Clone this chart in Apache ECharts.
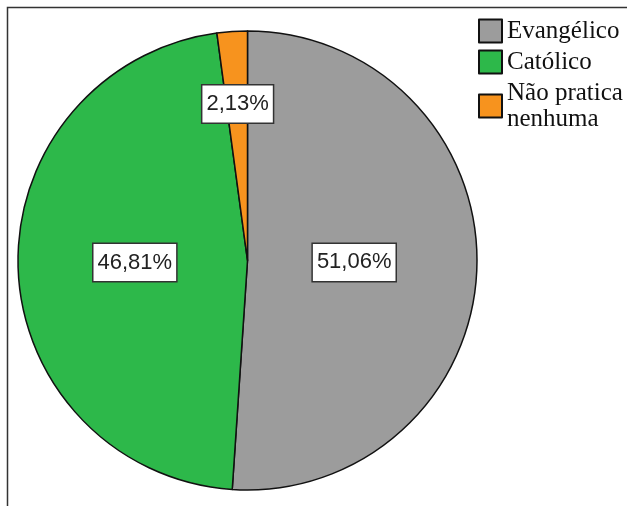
<!DOCTYPE html>
<html>
<head>
<meta charset="utf-8">
<style>
  html, body { margin: 0; padding: 0; background: #ffffff; }
  #chart { width: 627px; height: 506px; }
</style>
<script src="https://cdn.jsdelivr.net/npm/echarts@6/dist/echarts.min.js"></script>
</head>
<body>
<div id="chart"></div>
<script>
// Religião praticada (percentual)
const categories = ['Evangélico', 'Católico', 'Não pratica\nnenhuma'];
const percentages = [51.06, 46.81, 2.13];
const sliceColors = ['#9c9c9c', '#2db84a', '#f7931e'];

// small nudges applied to each inside label
const labelShift = [[-11, -2], [5, -2], [-2, -39]];

const chart = echarts.init(document.getElementById('chart'), null, { renderer: 'canvas' });

chart.setOption({
  animation: false,
  backgroundColor: '#ffffff',
  graphic: [
    {
      type: 'polyline',
      silent: true,
      shape: { points: [[7.5, 506], [7.5, 7.5], [627, 7.5]] },
      style: { stroke: '#333333', lineWidth: 1.5, fill: null }
    }
  ],
  legend: {
    orient: 'vertical',
    left: 478,
    top: 18,
    padding: 0,
    itemWidth: 23,
    itemHeight: 23,
    itemGap: 5,
    icon: 'rect',
    selectedMode: false,
    textStyle: {
      fontFamily: 'Liberation Serif',
      fontSize: 25,
      lineHeight: 26,
      color: '#111111'
    },
    data: categories
  },
  series: [
    {
      type: 'pie',
      center: [247.5, 260.5],
      radius: 229.5,
      startAngle: 90,
      clockwise: true,
      silent: true,
      itemStyle: { borderColor: '#111111', borderWidth: 1.5 },
      emphasis: { disabled: true },
      label: {
        show: true,
        position: 'inside',
        formatter: (p) => p.value.toFixed(2).replace('.', ',') + '%',
        fontFamily: 'Liberation Sans',
        fontSize: 22,
        lineHeight: 26,
        color: '#222222',
        backgroundColor: '#ffffff',
        borderColor: '#333333',
        borderWidth: 1.5,
        padding: [6, 4, 5, 4]
      },
      labelLayout: (params) => ({
        dx: labelShift[params.dataIndex][0],
        dy: labelShift[params.dataIndex][1]
      }),
      data: categories.map((name, i) => ({
        name: name,
        value: percentages[i],
        itemStyle: { color: sliceColors[i] }
      }))
    }
  ]
});
</script>
</body>
</html>
